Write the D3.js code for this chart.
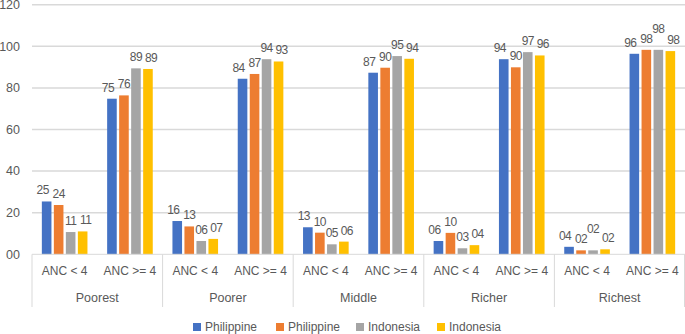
<!DOCTYPE html>
<html>
<head>
<meta charset="utf-8">
<script src="https://cdn.jsdelivr.net/npm/d3@7"></script>
<style>
  body { margin: 0; background: #fff; }
  text { font-family: "Liberation Sans", Arial, sans-serif; fill: #595959; }
</style>
</head>
<body>
<div id="chart"></div>
<script>
// categories
const groups = ['Poorest', 'Poorer', 'Middle', 'Richer', 'Richest'];
const subCats = ['ANC < 4', 'ANC >= 4'];
const seriesNames = ['Philippine', 'Philippine', 'Indonesia', 'Indonesia'];
const seriesColors = ['#4472c4', '#ed7d31', '#a5a5a5', '#ffc000'];
const yTicks = [0, 20, 40, 60, 80, 100, 120];

// values, in order Poorest<4, Poorest>=4, Poorer<4, Poorer>=4, ...
const philippineA = [25.4, 74.8, 16.0, 84.4, 13.0, 87.3, 6.4, 93.8, 3.6, 96.4];
const philippineB = [23.7, 76.4, 13.4, 86.7, 10.4, 89.7, 10.3, 89.9, 1.9, 98.3];
const indonesiaA  = [10.7, 89.4, 6.4, 93.8, 4.8, 95.3, 2.9, 97.2, 1.9, 98.3];
const indonesiaB  = [11.0, 89.1, 7.4, 92.7, 6.1, 94.0, 4.4, 95.6, 2.4, 97.7];

const W = 685, H = 334;
const mLeft = 32, mRight = 685, mTop = 4.7, mBottom = 254.3;

const svg = d3.select('#chart').append('svg')
  .attr('width', W).attr('height', H);

const slots = [];
groups.forEach(g => subCats.forEach(s => slots.push(g + '|' + s)));

const allSeries = [philippineA, philippineB, indonesiaA, indonesiaB];

const x0 = d3.scaleBand().domain(slots).range([mLeft, mRight]).padding(0);
const x1 = d3.scaleBand().domain(d3.range(4)).range([0, x0.bandwidth()])
  .paddingInner(0.2).paddingOuter(0.82);
const xg = d3.scaleBand().domain(groups).range([mLeft, mRight]).padding(0);
const y = d3.scaleLinear().domain([0, 120]).range([mBottom, mTop]);

// gridlines
svg.append('g').selectAll('line').data(yTicks.filter(d => d > 0)).join('line')
  .attr('x1', mLeft).attr('x2', mRight)
  .attr('y1', d => y(d)).attr('y2', d => y(d))
  .attr('stroke', '#d9d9d9').attr('stroke-width', 1.5);

// y tick labels
svg.append('g').selectAll('text').data(yTicks).join('text')
  .attr('x', 20).attr('y', d => y(d)).attr('dy', '0.35em')
  .attr('text-anchor', 'end').style('font-size', '12.5px')
  .text(d => d3.format('02d')(d));

// bars
const cells = [];
slots.forEach((s, i) => allSeries.forEach((arr, k) => cells.push({ slot: s, k, v: arr[i] })));

svg.append('g').selectAll('rect').data(cells).join('rect')
  .attr('x', d => x0(d.slot) + x1(d.k))
  .attr('y', d => y(d.v))
  .attr('width', x1.bandwidth())
  .attr('height', d => mBottom - y(d.v))
  .attr('fill', d => seriesColors[d.k]);

// data labels (lifted when they would collide with the one to the left)
const dxs = [-4, 0, 0, 3];
const labels = svg.append('g').selectAll('text').data(cells).join('text')
  .attr('text-anchor', 'middle')
  .style('font-size', '12px')
  .style('letter-spacing', '-0.6px')
  .text(d => d3.format('02.0f')(d.v));

let prev = null;
labels.each(function (d) {
  d.lx = x0(d.slot) + x1(d.k) + x1.bandwidth() / 2 + dxs[d.k];
  d.ly = y(d.v) - 7;
  d.w = this.getComputedTextLength();
  if (prev && prev.slot === d.slot &&
      Math.abs(d.lx - prev.lx) < (d.w + prev.w) / 2 + 1 &&
      Math.abs(d.ly - prev.ly) < 10) {
    d.ly = Math.min(d.ly, prev.ly) - 10;
  }
  prev = d;
});
labels.attr('x', d => d.lx).attr('y', d => d.ly);

// category axis
svg.append('line').attr('x1', mLeft).attr('x2', mRight)
  .attr('y1', mBottom).attr('y2', mBottom)
  .attr('stroke', '#d9d9d9').attr('stroke-width', 1);

const seps = groups.map(g => xg(g)).concat([mRight - 0.5]);
svg.append('g').selectAll('line').data(seps).join('line')
  .attr('x1', d => d).attr('x2', d => d)
  .attr('y1', mBottom).attr('y2', 307)
  .attr('stroke', '#d9d9d9').attr('stroke-width', 1);

svg.append('g').selectAll('text').data(slots).join('text')
  .attr('x', d => x0(d) + x0.bandwidth() / 2).attr('y', 271).attr('dy', '0.35em')
  .attr('text-anchor', 'middle').style('font-size', '12px')
  .text(d => d.split('|')[1]);

svg.append('g').selectAll('text').data(groups).join('text')
  .attr('x', d => xg(d) + xg.bandwidth() / 2).attr('y', 298).attr('dy', '0.35em')
  .attr('text-anchor', 'middle').style('font-size', '12.5px')
  .text(d => d);

// legend
const legX = [193, 276, 356, 437];
const leg = svg.append('g').selectAll('g').data(seriesNames).join('g')
  .attr('transform', (d, i) => `translate(${legX[i]},327)`);
leg.append('rect').attr('x', 0).attr('y', -4).attr('width', 8).attr('height', 8)
  .attr('fill', (d, i) => seriesColors[i]);
leg.append('text').attr('x', 12).attr('dy', '0.35em')
  .style('font-size', '12px').text(d => d);
</script>
</body>
</html>
